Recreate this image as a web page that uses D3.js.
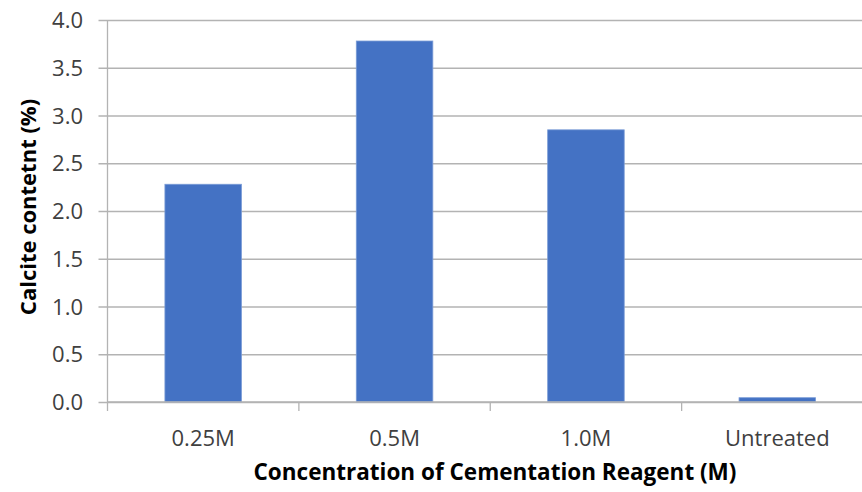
<!DOCTYPE html>
<html>
<head>
<meta charset="utf-8">
<script src="https://cdn.jsdelivr.net/npm/d3@7"></script>
<style>
  html, body { margin: 0; padding: 0; background: #fff; }
  svg { display: block; }
  text { font-family: "Open Sans", "Noto Sans", sans-serif; }
</style>
</head>
<body>
<svg id="chart" width="862" height="492"></svg>
<script>
// Calcite content by cementation reagent concentration
const categories = ["0.25M", "0.5M", "1.0M", "Untreated"];
const calciteValues = [2.28, 3.78, 2.85, 0.045];
const yTicks = [0, 0.5, 1.0, 1.5, 2.0, 2.5, 3.0, 3.5, 4.0];

const svg = d3.select("#chart");
const plotL = 107.5, plotR = 873, plotT = 20, plotB = 402;

const x = d3.scaleBand().domain(categories).range([plotL, plotR]).paddingInner(0.6).paddingOuter(0.3);
const xGroup = d3.scaleBand().domain(categories).range([plotL, plotR]);
const y = d3.scaleLinear().domain([0, 4]).range([plotB, plotT]);

const gridColor = "#b3b3b3";
const labelColor = "#404040";

// horizontal gridlines (extend left as tick marks)
svg.append("g")
  .attr("transform", `translate(${plotL},0)`)
  .call(d3.axisLeft(y).tickValues(yTicks).tickSize(-(plotR - plotL)).tickFormat(""))
  .call(g => g.select(".domain").remove())
  .call(g => g.selectAll("line").attr("stroke", gridColor).attr("stroke-width", 1.3).attr("x1", -9));

// y tick labels
svg.append("g")
  .attr("transform", `translate(${plotL},0)`)
  .call(d3.axisLeft(y).tickValues(yTicks).tickSize(0).tickPadding(24.5).tickFormat(d3.format(".1f")))
  .call(g => g.select(".domain").remove())
  .call(g => g.selectAll("text").attr("font-size", 22).attr("fill", labelColor)
    .attr("font-family", "'Open Sans', sans-serif").attr("dy", "0.35em"));

// bars
svg.append("g").selectAll("rect")
  .data(categories)
  .join("rect")
  .attr("x", (d) => x(d))
  .attr("width", x.bandwidth())
  .attr("y", (d, i) => y(calciteValues[i]))
  .attr("height", (d, i) => plotB - y(calciteValues[i]))
  .attr("fill", "#4472C4")
  .attr("stroke", "#7a9bd6")
  .attr("stroke-width", 0.8);

// y axis line
svg.append("line")
  .attr("x1", plotL).attr("x2", plotL).attr("y1", plotT).attr("y2", plotB)
  .attr("stroke", gridColor).attr("stroke-width", 1.3);

// category axis with tick marks on the band boundaries
const xAxis = svg.append("g").attr("transform", `translate(0,${plotB})`);
xAxis.append("line").attr("x1", plotL).attr("x2", plotR).attr("stroke", gridColor).attr("stroke-width", 1.3);
xAxis.selectAll("line.tick")
  .data(categories.concat(["end"]))
  .join("line")
  .attr("class", "tick")
  .attr("x1", (d, i) => plotL + i * xGroup.bandwidth())
  .attr("x2", (d, i) => plotL + i * xGroup.bandwidth())
  .attr("y1", 0).attr("y2", 9)
  .attr("stroke", gridColor).attr("stroke-width", 1.3);

svg.append("g")
  .attr("transform", `translate(0,${plotB})`)
  .call(d3.axisBottom(xGroup).tickSize(0))
  .call(g => g.select(".domain").remove())
  .call(g => g.selectAll("text").attr("font-size", 22).attr("fill", labelColor)
    .attr("font-family", "'Open Sans', sans-serif").attr("y", 44).attr("dy", 0));

// axis titles
svg.append("text")
  .attr("x", 495)
  .attr("y", 480)
  .attr("text-anchor", "middle")
  .attr("font-size", 22.5)
  .attr("font-weight", "bold")
  .attr("fill", "#000")
  .text("Concentration of Cementation Reagent (M)");

svg.append("text")
  .attr("transform", `translate(36,207) rotate(-90)`)
  .attr("text-anchor", "middle")
  .attr("font-size", 22)
  .attr("font-weight", "bold")
  .attr("fill", "#000")
  .text("Calcite contetnt (%)");
</script>
</body>
</html>
